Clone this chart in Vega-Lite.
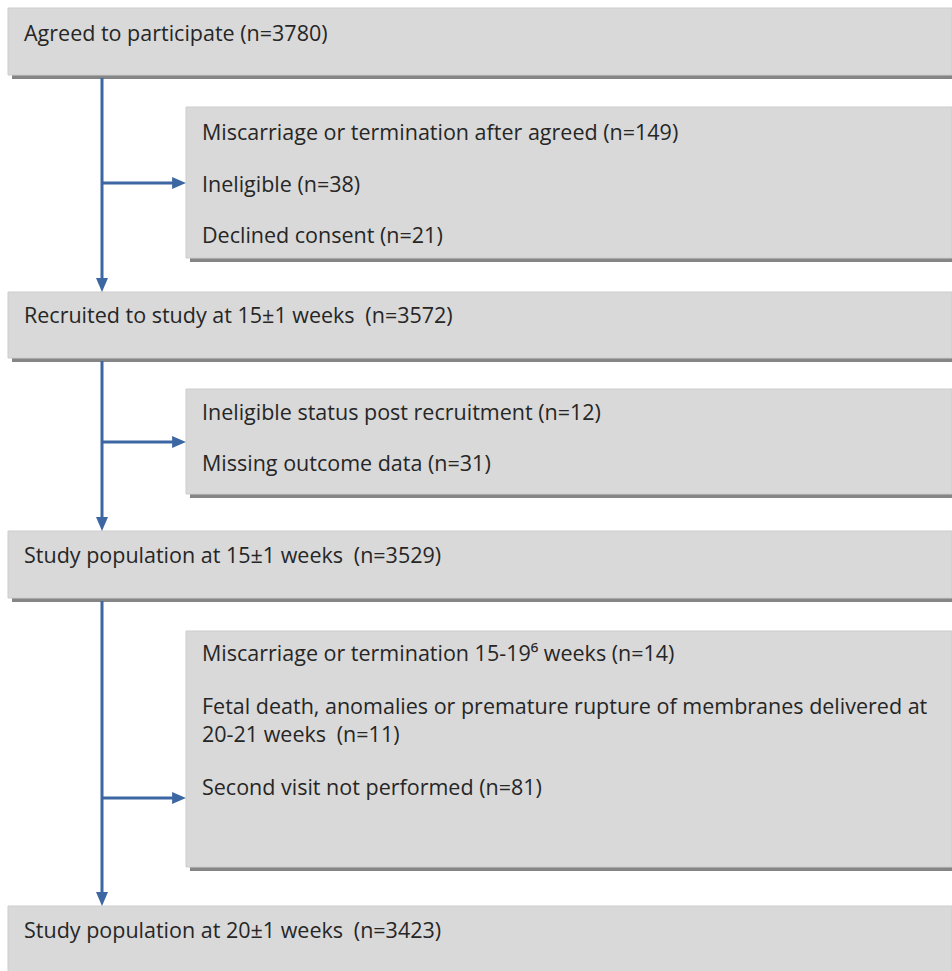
{
  "$schema": "https://vega.github.io/schema/vega-lite/v6.json",
  "width": 952,
  "height": 971,
  "autosize": {"type": "fit", "contains": "padding"},
  "padding": 0,
  "background": "white",
  "config": {"view": {"stroke": null}},
  "datasets": {
    "boxes": [
      {"id": "agreed", "x0": 8, "x1": 952, "y0": 8, "y1": 75},
      {"id": "excl1", "x0": 186, "x1": 952, "y0": 107, "y1": 258},
      {"id": "recruited", "x0": 8, "x1": 952, "y0": 292, "y1": 358},
      {"id": "excl2", "x0": 186, "x1": 952, "y0": 389, "y1": 494},
      {"id": "pop15", "x0": 8, "x1": 952, "y0": 531, "y1": 598},
      {"id": "excl3", "x0": 186, "x1": 952, "y0": 631, "y1": 867},
      {"id": "pop20", "x0": 8, "x1": 952, "y0": 906, "y1": 990}
    ],
    "lines": [
      {"x0": 102, "x1": 102, "y0": 78, "y1": 280},
      {"x0": 102, "x1": 102, "y0": 361, "y1": 519},
      {"x0": 102, "x1": 102, "y0": 601, "y1": 894},
      {"x0": 102, "x1": 175, "y0": 183, "y1": 183},
      {"x0": 102, "x1": 175, "y0": 442, "y1": 442},
      {"x0": 102, "x1": 175, "y0": 798, "y1": 798}
    ],
    "arrows": [
      {"x": 102, "y": 285, "dir": "down"},
      {"x": 102, "y": 524, "dir": "down"},
      {"x": 102, "y": 899, "dir": "down"},
      {"x": 179, "y": 183, "dir": "right"},
      {"x": 179, "y": 442, "dir": "right"},
      {"x": 179, "y": 798, "dir": "right"}
    ],
    "labels": [
      {"x": 24, "y": 41, "text": "Agreed to participate (n=3780)"},
      {"x": 202, "y": 140, "text": "Miscarriage or termination after agreed (n=149)"},
      {"x": 202, "y": 192, "text": "Ineligible (n=38)"},
      {"x": 202, "y": 243, "text": "Declined consent (n=21)"},
      {"x": 24, "y": 323, "text": "Recruited to study at 15±1 weeks\u2002(n=3572)"},
      {"x": 202, "y": 420, "text": "Ineligible status post recruitment (n=12)"},
      {"x": 202, "y": 471, "text": "Missing outcome data (n=31)"},
      {"x": 24, "y": 563, "text": "Study population at 15±1 weeks\u2002(n=3529)"},
      {"x": 202, "y": 661, "text": "Miscarriage or termination 15-19⁶ weeks (n=14)"},
      {"x": 202, "y": 714, "text": "Fetal death, anomalies or premature rupture of membranes delivered at"},
      {"x": 202, "y": 742, "text": "20-21 weeks\u2002(n=11)"},
      {"x": 202, "y": 795, "text": "Second visit not performed (n=81)"},
      {"x": 24, "y": 938, "text": "Study population at 20±1 weeks\u2002(n=3423)"}
    ]
  },
  "layer": [
    {
      "data": {"name": "boxes"},
      "mark": {"type": "rect", "color": "#858585", "clip": true, "xOffset": 4, "x2Offset": 4, "yOffset": 4, "y2Offset": 4},
      "encoding": {
        "x": {"field": "x0", "type": "quantitative", "scale": {"domain": [0, 952], "nice": false, "zero": false}, "axis": null},
        "x2": {"field": "x1"},
        "y": {"field": "y0", "type": "quantitative", "scale": {"domain": [0, 971], "nice": false, "zero": false, "reverse": true}, "axis": null},
        "y2": {"field": "y1"}
      }
    },
    {
      "data": {"name": "boxes"},
      "mark": {"type": "rect", "color": "#d9d9d9", "stroke": "#cdcdcd", "strokeWidth": 1, "clip": true},
      "encoding": {
        "x": {"field": "x0", "type": "quantitative"},
        "x2": {"field": "x1"},
        "y": {"field": "y0", "type": "quantitative"},
        "y2": {"field": "y1"}
      }
    },
    {
      "data": {"name": "lines"},
      "mark": {"type": "rule", "color": "#3d67a3", "strokeWidth": 3},
      "encoding": {
        "x": {"field": "x0", "type": "quantitative"},
        "x2": {"field": "x1"},
        "y": {"field": "y0", "type": "quantitative"},
        "y2": {"field": "y1"}
      }
    },
    {
      "data": {"name": "arrows"},
      "mark": {"type": "point", "filled": true, "color": "#3d67a3", "opacity": 1, "size": 144},
      "encoding": {
        "x": {"field": "x", "type": "quantitative"},
        "y": {"field": "y", "type": "quantitative"},
        "shape": {"field": "dir", "type": "nominal", "scale": {"domain": ["down", "right"], "range": ["M-1,-1.15L1,-1.15L0,1.15Z", "M-1.15,-1L1.15,0L-1.15,1Z"]}, "legend": null}
      }
    },
    {
      "data": {"name": "labels"},
      "mark": {"type": "text", "align": "left", "baseline": "alphabetic", "font": "Open Sans", "fontSize": 21.5, "color": "#262626"},
      "encoding": {
        "x": {"field": "x", "type": "quantitative"},
        "y": {"field": "y", "type": "quantitative"},
        "text": {"field": "text", "type": "nominal"}
      }
    }
  ]
}
